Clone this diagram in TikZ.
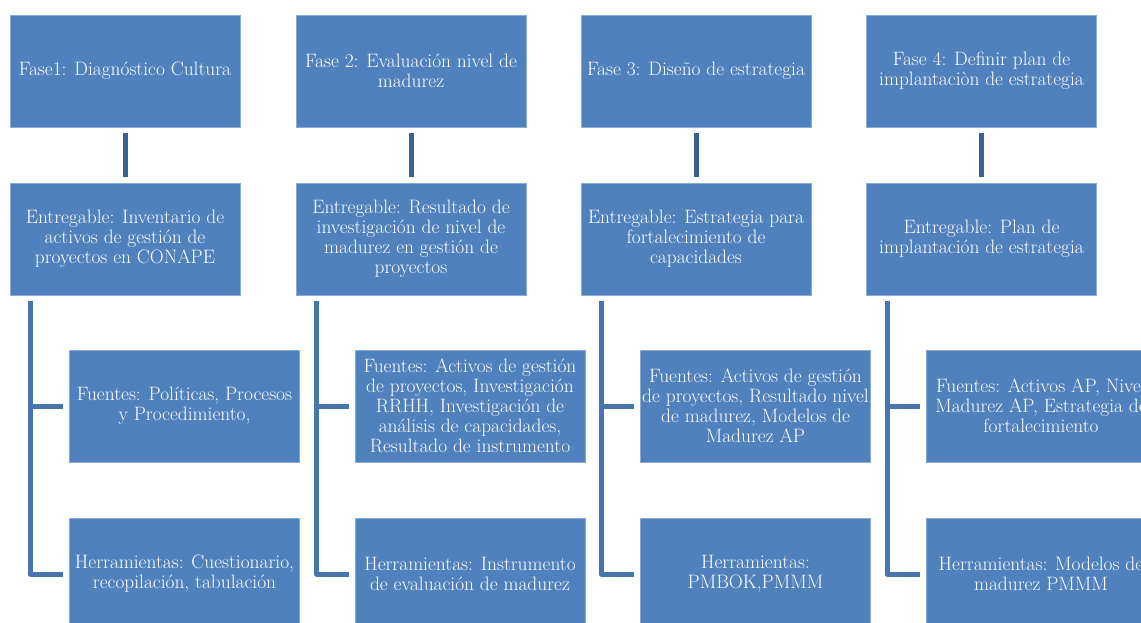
\documentclass[tikz,border=0pt]{standalone}
\begin{document}
\begin{tikzpicture}[x=1pt,y=-1pt,
  phasebox/.style={rectangle, fill=boxblue, draw=boxedge, line width=0.8pt,
    minimum width=230pt, minimum height=112pt, inner sep=2pt,
    text=white, align=center, font=\fontsize{19.4}{20}\selectfont},
  link/.style={draw=linkdark, line width=5pt, shorten <=6pt, shorten >=6pt},
  bracket/.style={draw=bracketblue, line width=5pt, line join=round}]
\definecolor{boxblue}{HTML}{4F81BD}
\definecolor{boxedge}{HTML}{8AAAD6}
\definecolor{linkdark}{HTML}{3A6192}
\definecolor{bracketblue}{HTML}{4775AF}
\useasboundingbox (0,0) rectangle (1141,623);
\clip (0,0) rectangle (1141,623);

% Column 1
\node[phasebox] (p1) at (125,71) {Fase1: Diagnóstico Cultura};
\node[phasebox] (e1) at (125,239) {Entregable: Inventario de\\activos de gestión de\\proyectos en CONAPE};
\node[phasebox] (f1) at (184.5,406) {Fuentes: Políticas, Procesos\\y Procedimiento,};
\node[phasebox] (h1) at (184.5,574) {Herramientas: Cuestionario,\\recopilación, tabulación};

% Column 2
\node[phasebox] (p2) at (411,71) {Fase 2: Evaluación nivel de\\madurez};
\node[phasebox] (e2) at (411,239) {Entregable: Resultado de\\investigación de nivel de\\madurez en gestión de\\proyectos};
\node[phasebox] (f2) at (470,406) {Fuentes: Activos de gestión\\de proyectos, Investigación\\RRHH, Investigación de\\análisis de capacidades,\\Resultado de instrumento};
\node[phasebox] (h2) at (470,574) {Herramientas: Instrumento\\de evaluación de madurez};

% Column 3
\node[phasebox] (p3) at (696,71) {Fase 3: Diseño de estrategia};
\node[phasebox] (e3) at (696,239) {Entregable: Estrategia para\\fortalecimiento de\\capacidades};
\node[phasebox] (f3) at (755.5,406) {Fuentes: Activos de gestión\\de proyectos, Resultado nivel\\de madurez, Modelos de\\Madurez AP};
\node[phasebox] (h3) at (755.5,574) {Herramientas:\\PMBOK,PMMM};

% Column 4
\node[phasebox] (p4) at (981.5,71) {Fase 4: Definir plan de\\implantaciòn de estrategia};
\node[phasebox] (e4) at (981.5,239) {Entregable: Plan de\\implantación de estrategia};
\node[phasebox] (f4) at (1041,406) {Fuentes: Activos AP, Nivel\\Madurez AP, Estrategia de\\fortalecimiento};
\node[phasebox] (h4) at (1041,574) {Herramientas: Modelos de\\madurez PMMM};

% Phase to deliverable links and source/tool brackets
\foreach \i in {1,2,3,4} {
  \draw[link] (p\i.south) -- (e\i.north);
  \coordinate (b\i) at ([xshift=21pt,yshift=-6pt]e\i.south west);
  \draw[bracket] (b\i) |- ([xshift=-6pt]h\i.west);
  \draw[bracket] (b\i |- f\i.west) -- ([xshift=-6pt]f\i.west);
}
\end{tikzpicture}
\end{document}
